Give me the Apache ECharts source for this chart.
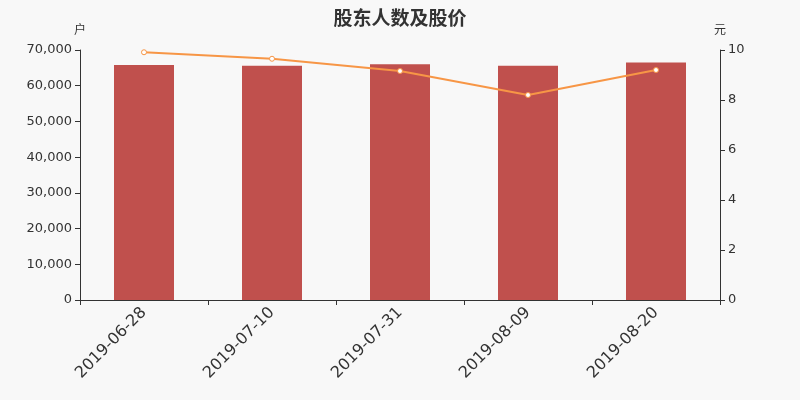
<!DOCTYPE html>
<html>
<head>
<meta charset="utf-8">
<script src="https://cdn.jsdelivr.net/npm/echarts@6/dist/echarts.min.js"></script>
<style>
html,body{margin:0;padding:0;background:#f8f8f8;}
#main{width:800px;height:400px;}
</style>
</head>
<body>
<div id="main"></div>
<script>
// 日期
var dates = ['2019-06-28', '2019-07-10', '2019-07-31', '2019-08-09', '2019-08-20'];
// 股东人数(户)
var holders = [65800, 65600, 66000, 65600, 66500];
// 股价(元)
var prices = [9.91, 9.65, 9.16, 8.2, 9.2];

var chart = echarts.init(document.getElementById('main'));
var axisText = {color: '#333', fontSize: 13, fontFamily: 'DejaVu Sans'};
var option = {
	backgroundColor: '#f8f8f8',
	title: {
		text: '股东人数及股价',
		left: 'center',
		top: 3,
		textStyle: {color: '#333', fontSize: 19, fontWeight: 'bold', fontFamily: 'Noto Sans CJK SC'}
	},
	grid: {left: 80, right: 80, top: 50, bottom: 100},
	xAxis: {
		type: 'category',
		data: dates,
		axisLine: {lineStyle: {color: '#333'}},
		axisTick: {show: true},
		axisLabel: {rotate: 45, color: '#333', fontSize: 16, fontFamily: 'DejaVu Sans', margin: 10}
	},
	yAxis: [
		{
			type: 'value',
			name: '户',
			min: 0, max: 70000, interval: 10000,
			nameTextStyle: {color: '#333', fontSize: 12, fontFamily: 'Noto Sans CJK SC'},
			nameGap: 15,
			axisLine: {show: true, lineStyle: {color: '#333'}},
			axisTick: {show: true},
			splitLine: {show: false},
			axisLabel: Object.assign({formatter: function(v){ return v.toLocaleString('en-US'); }}, axisText)
		},
		{
			type: 'value',
			name: '元',
			min: 0, max: 10, interval: 2,
			nameTextStyle: {color: '#333', fontSize: 12, fontFamily: 'Noto Sans CJK SC'},
			nameGap: 15,
			axisLine: {show: true, lineStyle: {color: '#333'}},
			axisTick: {show: true},
			splitLine: {show: false},
			axisLabel: axisText
		}
	],
	series: [
		{
			name: '股东人数',
			type: 'bar',
			data: holders,
			barWidth: 60,
			itemStyle: {color: '#c0504d'}
		},
		{
			name: '股价',
			type: 'line',
			yAxisIndex: 1,
			data: prices,
			symbol: 'circle',
			symbolSize: 5,
			lineStyle: {color: '#f79646', width: 2},
			itemStyle: {color: '#ffffff', borderColor: '#f79646', borderWidth: 1}
		}
	]
};
chart.setOption(option);
</script>
</body>
</html>
